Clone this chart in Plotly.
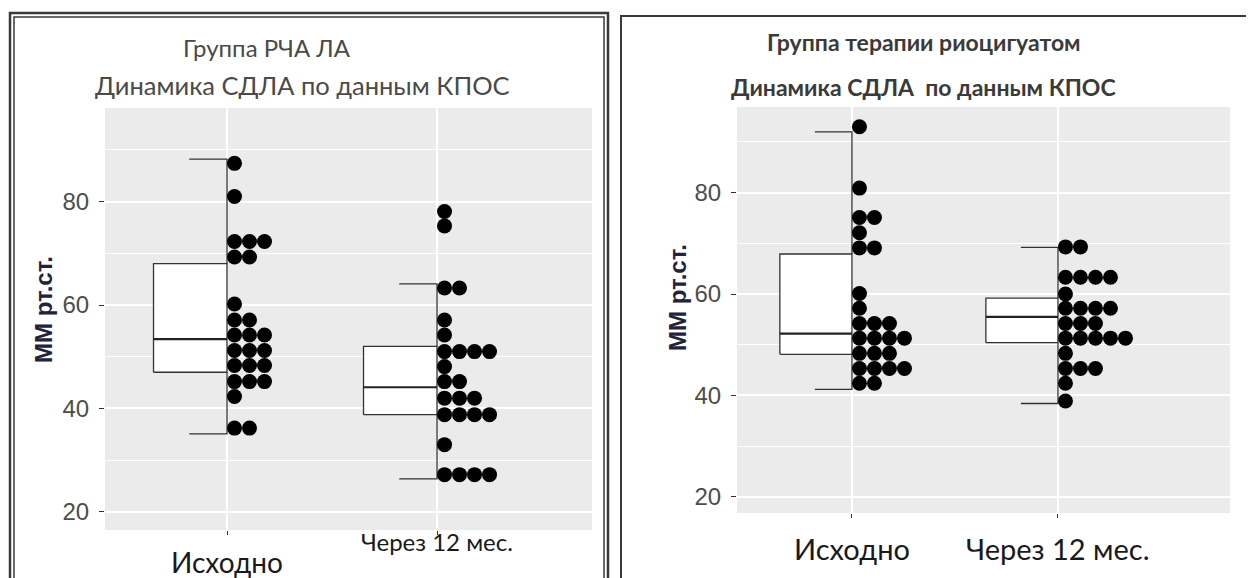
import plotly.graph_objects as go

W, H = 1254, 578
OFF = 8  # page body margin that shifts the figure on screen


def px(xs):
    return (xs - OFF) / W


def py(ys):
    return 1 - (ys - OFF) / H


categories = ["Исходно", "Через 12 мес."]
y_ticks = [20, 40, 60, 80]
y_title = "ММ рт.ст."

left_title = ["Группа РЧА ЛА", "Динамика СДЛА по данным КПОС"]
right_title = ["Группа терапии риоцигуатом", "Динамика СДЛА  по данным КПОС"]

# dot values (each value = one dot)
rfa_base = [87.4, 81.0, 72.3, 72.3, 72.3, 69.3, 69.3, 60.2, 57.1, 57.1,
            54.2, 54.2, 54.2, 51.2, 51.2, 51.2, 48.3, 48.3, 48.3,
            45.2, 45.2, 45.2, 42.3, 36.2, 36.2]
rfa_12m = [78.1, 75.3, 63.3, 63.3, 57.1, 54.2, 51.0, 51.0, 51.0, 51.0,
           48.1, 45.2, 45.2, 42.0, 42.0, 42.0, 38.8, 38.8, 38.8, 38.8,
           33.0, 27.2, 27.2, 27.2, 27.2]
rio_base = [93.0, 80.9, 75.1, 75.1, 72.1, 69.1, 69.1, 60.1, 57.2,
            54.2, 54.2, 54.2, 51.3, 51.3, 51.3, 51.3, 48.3, 48.3, 48.3,
            45.3, 45.3, 45.3, 45.3, 42.4, 42.4]
rio_12m = [69.3, 69.3, 63.3, 63.3, 63.3, 63.3, 60.0, 57.2, 57.2, 57.2, 57.2,
           54.2, 54.2, 54.2, 51.3, 51.3, 51.3, 51.3, 51.3, 48.3,
           45.3, 45.3, 45.3, 42.4, 38.9]

# box statistics [whisker_low, q1, median, q3, whisker_high]
rfa_box = [[35.1, 47.0, 53.4, 68.0, 88.2], [26.4, 38.8, 44.1, 52.0, 64.1]]
rio_box = [[41.2, 48.1, 52.2, 67.9, 92.0], [38.4, 50.4, 55.5, 59.2, 69.2]]

panels = [
    dict(xa="x", ya="y", dots=[rfa_base, rfa_12m], box=rfa_box,
         xdom=[px(105), px(592)], ydom=[py(530), py(108)],
         xrange=[0.419, 2.738], yrange=[16.5, 98.1], px_per_unit=210.0),
    dict(xa="x2", ya="y2", dots=[rio_base, rio_12m], box=rio_box,
         xdom=[px(737), px(1230)], ydom=[py(513), py(107)],
         xrange=[0.442, 2.835], yrange=[16.8, 96.9], px_per_unit=206.0),
]

DOT_PX = 15.0
BOX_W = 0.35
CAP_W = 0.18
LINE_C = "#333333"

fig = go.Figure()

for p in panels:
    d = DOT_PX / p["px_per_unit"]
    for ci, cat_x in enumerate([1, 2]):
        lo, q1, med, q3, hi = p["box"][ci]
        fig.add_trace(go.Scatter(
            x=[cat_x - BOX_W, cat_x, cat_x, cat_x - BOX_W, cat_x - BOX_W],
            y=[q1, q1, q3, q3, q1], mode="lines", fill="toself",
            fillcolor="white", line=dict(color=LINE_C, width=1.3),
            xaxis=p["xa"], yaxis=p["ya"], showlegend=False, hoverinfo="skip"))
        fig.add_trace(go.Scatter(
            x=[cat_x - BOX_W, cat_x], y=[med, med], mode="lines",
            line=dict(color="#222222", width=2.2),
            xaxis=p["xa"], yaxis=p["ya"], showlegend=False, hoverinfo="skip"))
        fig.add_trace(go.Scatter(
            x=[cat_x - CAP_W, cat_x, cat_x, None, cat_x, cat_x, cat_x - CAP_W],
            y=[hi, hi, q3, None, q1, lo, lo], mode="lines",
            line=dict(color=LINE_C, width=1.3),
            xaxis=p["xa"], yaxis=p["ya"], showlegend=False, hoverinfo="skip"))
        counts = {}
        xs, ys = [], []
        for v in p["dots"][ci]:
            k = counts.get(v, 0)
            counts[v] = k + 1
            xs.append(cat_x + (k + 0.5) * d)
            ys.append(v)
        fig.add_trace(go.Scatter(
            x=xs, y=ys, mode="markers",
            marker=dict(color="black", size=DOT_PX, line=dict(width=0)),
            xaxis=p["xa"], yaxis=p["ya"], showlegend=False))

tickfont = dict(family="Liberation Sans, Arial, sans-serif", size=24, color="#4d4d4d")
for i, p in enumerate(panels):
    sfx = "" if i == 0 else "2"
    fig.layout["xaxis" + sfx] = dict(
        domain=p["xdom"], range=p["xrange"], anchor="y" + sfx,
        tickvals=[1, 2], showticklabels=False,
        ticks="outside", ticklen=4, tickcolor=LINE_C, tickwidth=1.2,
        showgrid=True, gridcolor="white", gridwidth=1.6, zeroline=False,
        showline=False, fixedrange=True)
    fig.layout["yaxis" + sfx] = dict(
        domain=p["ydom"], range=p["yrange"], anchor="x" + sfx,
        tickvals=y_ticks, ticks="outside", ticklen=5, tickcolor=LINE_C,
        tickwidth=1.2, tickfont=tickfont, ticklabelstandoff=5,
        showgrid=True, gridcolor="white", gridwidth=1.6, zeroline=False,
        minor=dict(tickvals=[30, 50, 70, 90], showgrid=True,
                   gridcolor="white", gridwidth=1.0, ticks=""),
        showline=False, fixedrange=True)

annotations = []
annotations.append(dict(text=left_title[0], x=px(267), y=py(47),
                        font=dict(family="Lato, sans-serif", size=24, color="#4a4a4a")))
annotations.append(dict(text=left_title[1], x=px(302), y=py(85),
                        font=dict(family="Lato, sans-serif", size=25.5, color="#4a4a4a")))
title_font_r = dict(family="Lato, sans-serif", size=23, color="#3a3a3a")
annotations.append(dict(text="<b>" + right_title[0] + "</b>", x=px(924), y=py(42), font=title_font_r))
annotations.append(dict(text="<b>" + right_title[1] + "</b>", x=px(923), y=py(87), font=title_font_r))

ytitle_font = dict(family="Liberation Sans, Arial, sans-serif", size=24, color="#22223a")
annotations.append(dict(text="<b>" + y_title + "</b>", x=px(43), y=py(310), textangle=-90, font=ytitle_font))
annotations.append(dict(text="<b>" + y_title + "</b>", x=px(677), y=py(297), textangle=-90, font=ytitle_font))

annotations.append(dict(text=categories[0], x=1, xref="x", y=py(562),
                        font=dict(family="Lato, sans-serif", size=28, color="#1a1a1a")))
annotations.append(dict(text=categories[1], x=2, xref="x", y=py(541),
                        font=dict(family="Lato, sans-serif", size=24, color="#1a1a1a")))
xlab_font_r = dict(family="Lato, sans-serif", size=29, color="#1a1a1a")
annotations.append(dict(text=categories[0], x=1, xref="x2", y=py(548), font=xlab_font_r))
annotations.append(dict(text=categories[1], x=2, xref="x2", y=py(548), font=xlab_font_r))

for a in annotations:
    a.setdefault("xref", "paper")
    a["yref"] = "paper"
    a["showarrow"] = False
    a["xanchor"] = "center"
    a["yanchor"] = "middle"

shapes = [
    dict(type="rect", xref="paper", yref="paper", x0=px(10), x1=px(608),
         y0=-0.2, y1=py(13), line=dict(color="#3a3a3a", width=2.5)),
    dict(type="rect", xref="paper", yref="paper", x0=px(14), x1=px(604),
         y0=-0.2, y1=py(17), line=dict(color="#3a3a3a", width=1.5)),
    dict(type="rect", xref="paper", yref="paper", x0=px(621), x1=1.2,
         y0=-0.2, y1=py(16), line=dict(color="#3a3a3a", width=2)),
]

fig.update_layout(
    width=W, height=H, margin=dict(l=0, r=0, t=0, b=0),
    paper_bgcolor="white", plot_bgcolor="#EBEBEB",
    annotations=annotations, shapes=shapes, showlegend=False,
)

fig.write_html("out.html")
